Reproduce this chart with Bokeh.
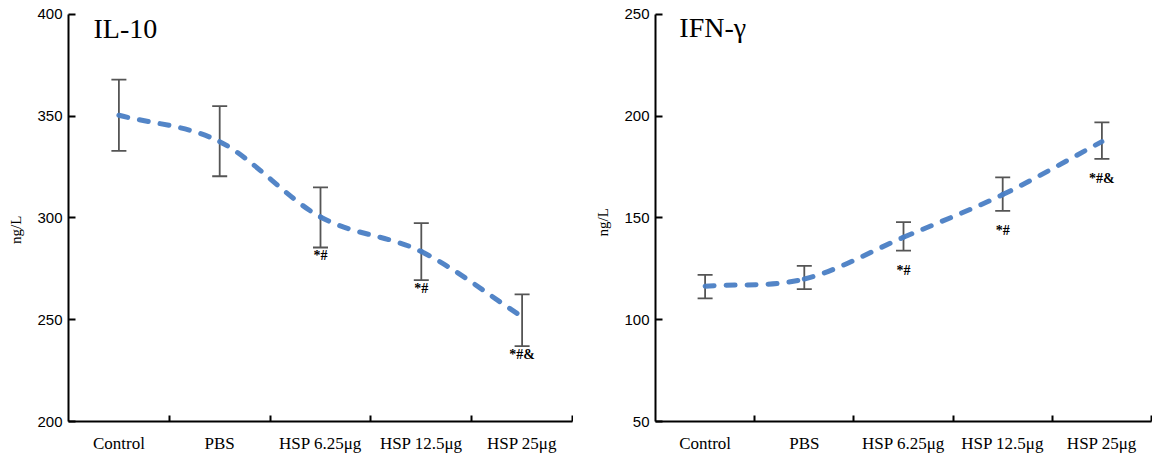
import numpy as np
from bokeh.plotting import figure
from bokeh.models import (ColumnDataSource, Whisker, TeeHead, Range1d, FixedTicker,
                          SingleIntervalTicker, Label)
from bokeh.layouts import row
from bokeh.embed import file_html
from bokeh.resources import INLINE
from bokeh.core.properties import value

categories = ["Control", "PBS", "HSP 6.25\u03bcg", "HSP 12.5\u03bcg", "HSP 25\u03bcg"]

il10_mean = [350.5, 337.5, 300.5, 283.5, 251.5]
il10_upper = [368, 355, 315, 297.5, 262.5]
il10_lower = [333, 320.5, 285.5, 269.5, 237]
il10_marks = ["", "", "*#", "*#", "*#&"]

ifn_mean = [116.5, 120, 140.5, 161.5, 187.5]
ifn_upper = [122, 126.5, 148, 170, 197]
ifn_lower = [110.5, 115, 134, 153.5, 179]
ifn_marks = ["", "", "*#", "*#", "*#&"]

LINE_COLOR = "#4a7ec4"
ERR_COLOR = "#555555"
SERIF = "Liberation Serif"
SANS = "Liberation Sans"
NBSP = "\u00a0"


def bezier_source(xs, ys):
    n = len(xs)
    tx, ty = [], []
    for i in range(n):
        if i == 0:
            tx.append(xs[1] - xs[0]); ty.append(ys[1] - ys[0])
        elif i == n - 1:
            tx.append(xs[-1] - xs[-2]); ty.append(ys[-1] - ys[-2])
        else:
            tx.append((xs[i + 1] - xs[i - 1]) / 2); ty.append((ys[i + 1] - ys[i - 1]) / 2)
    d = dict(x0=[], y0=[], x1=[], y1=[], cx0=[], cy0=[], cx1=[], cy1=[])
    for i in range(n - 1):
        d["x0"].append(xs[i]); d["y0"].append(ys[i])
        d["x1"].append(xs[i + 1]); d["y1"].append(ys[i + 1])
        d["cx0"].append(xs[i] + tx[i] / 3); d["cy0"].append(ys[i] + ty[i] / 3)
        d["cx1"].append(xs[i + 1] - tx[i + 1] / 3); d["cy1"].append(ys[i + 1] - ty[i + 1] / 3)
    return ColumnDataSource(d)


def make_panel(title, mean, upper, lower, marks, y0, y1, width, border_left,
               mark_offset, title_x, title_y, label_pad):
    xs = list(range(len(categories)))
    # frame extends 14px above the top tick so the title fits inside it
    y_top = y1 + 14 / 408 * (y1 - y0)
    p = figure(width=width, height=455, output_backend="svg", toolbar_location=None,
               x_range=Range1d(-0.5, len(categories) - 0.5), y_range=Range1d(y0, y_top),
               min_border_left=border_left, min_border_right=1, min_border_top=0,
               min_border_bottom=33)
    p.outline_line_color = None
    p.xgrid.visible = False
    p.ygrid.visible = False
    p.background_fill_color = "white"
    p.border_fill_color = "white"

    # x axis: labels at centers, tick marks at band boundaries (inward)
    xa = p.xaxis[0]
    xa.ticker = FixedTicker(ticks=xs, minor_ticks=[x + 0.5 for x in xs])
    xa.major_label_overrides = {x: c for x, c in zip(xs, categories)}
    xa.major_tick_in = 0
    xa.major_tick_out = 0
    xa.minor_tick_in = 6
    xa.minor_tick_out = 0
    xa.minor_tick_line_width = 2
    xa.minor_tick_line_color = "black"
    xa.axis_line_width = 2
    xa.axis_line_color = "black"
    xa.major_label_text_font = SERIF
    xa.major_label_text_font_size = "17px"
    xa.major_label_text_color = "black"
    xa.major_label_standoff = 12

    ya = p.yaxis[0]
    ya.bounds = (y0, y1)
    ya.ticker = SingleIntervalTicker(interval=50, num_minor_ticks=0)
    ya.major_tick_in = 7
    ya.major_tick_out = 0
    ya.major_tick_line_width = 2
    ya.major_tick_line_color = "black"
    ya.minor_tick_line_color = None
    ya.axis_line_width = 2
    ya.axis_line_color = "black"
    ya.major_label_text_font = SANS
    ya.major_label_text_font_size = "15px"
    ya.major_label_text_color = "black"
    ya.major_label_standoff = 6
    ya.axis_label = "ng/L" + NBSP * label_pad
    ya.axis_label_text_font = SERIF
    ya.axis_label_text_font_style = "normal"
    ya.axis_label_text_font_size = "15px"
    ya.axis_label_text_color = "black"
    ya.axis_label_standoff = 10

    src = ColumnDataSource(dict(x=xs, mean=mean, upper=upper, lower=lower, mark=marks))
    w = Whisker(base="x", upper="upper", lower="lower", source=src,
                line_color=ERR_COLOR, line_width=1.8,
                upper_head=TeeHead(size=15, line_color=ERR_COLOR, line_width=1.8),
                lower_head=TeeHead(size=15, line_color=ERR_COLOR, line_width=1.8))
    p.add_layout(w)

    bsrc = bezier_source(xs, mean)
    p.bezier(x0="x0", y0="y0", x1="x1", y1="y1", cx0="cx0", cy0="cy0", cx1="cx1", cy1="cy1",
             source=bsrc, line_color=LINE_COLOR, line_width=5, line_dash="9 12",
             line_cap="round", line_alpha=0.95)

    p.text(x="x", y="lower", text="mark", source=src, y_offset=mark_offset,
           text_font=value(SERIF), text_font_style="bold", text_font_size="14px",
           text_align="center", text_baseline="middle", text_color="black")

    p.add_layout(Label(x=title_x, y=title_y, text=title,
                       text_font=SERIF, text_font_size="28px",
                       text_baseline="alphabetic", text_align="left", text_color="black"))
    return p


p1 = make_panel("IL-10", il10_mean, il10_upper, il10_lower, il10_marks,
                200, 400, 573, 68, 8, -0.252, 393.1, 10)
p2 = make_panel("IFN-\u03b3", ifn_mean, ifn_upper, ifn_lower, ifn_marks,
                50, 250, 579, 82, 20, -0.26, 243.8, 6)

layout = row(p1, p2)
open("out.html", "w").write(file_html(layout, INLINE))
